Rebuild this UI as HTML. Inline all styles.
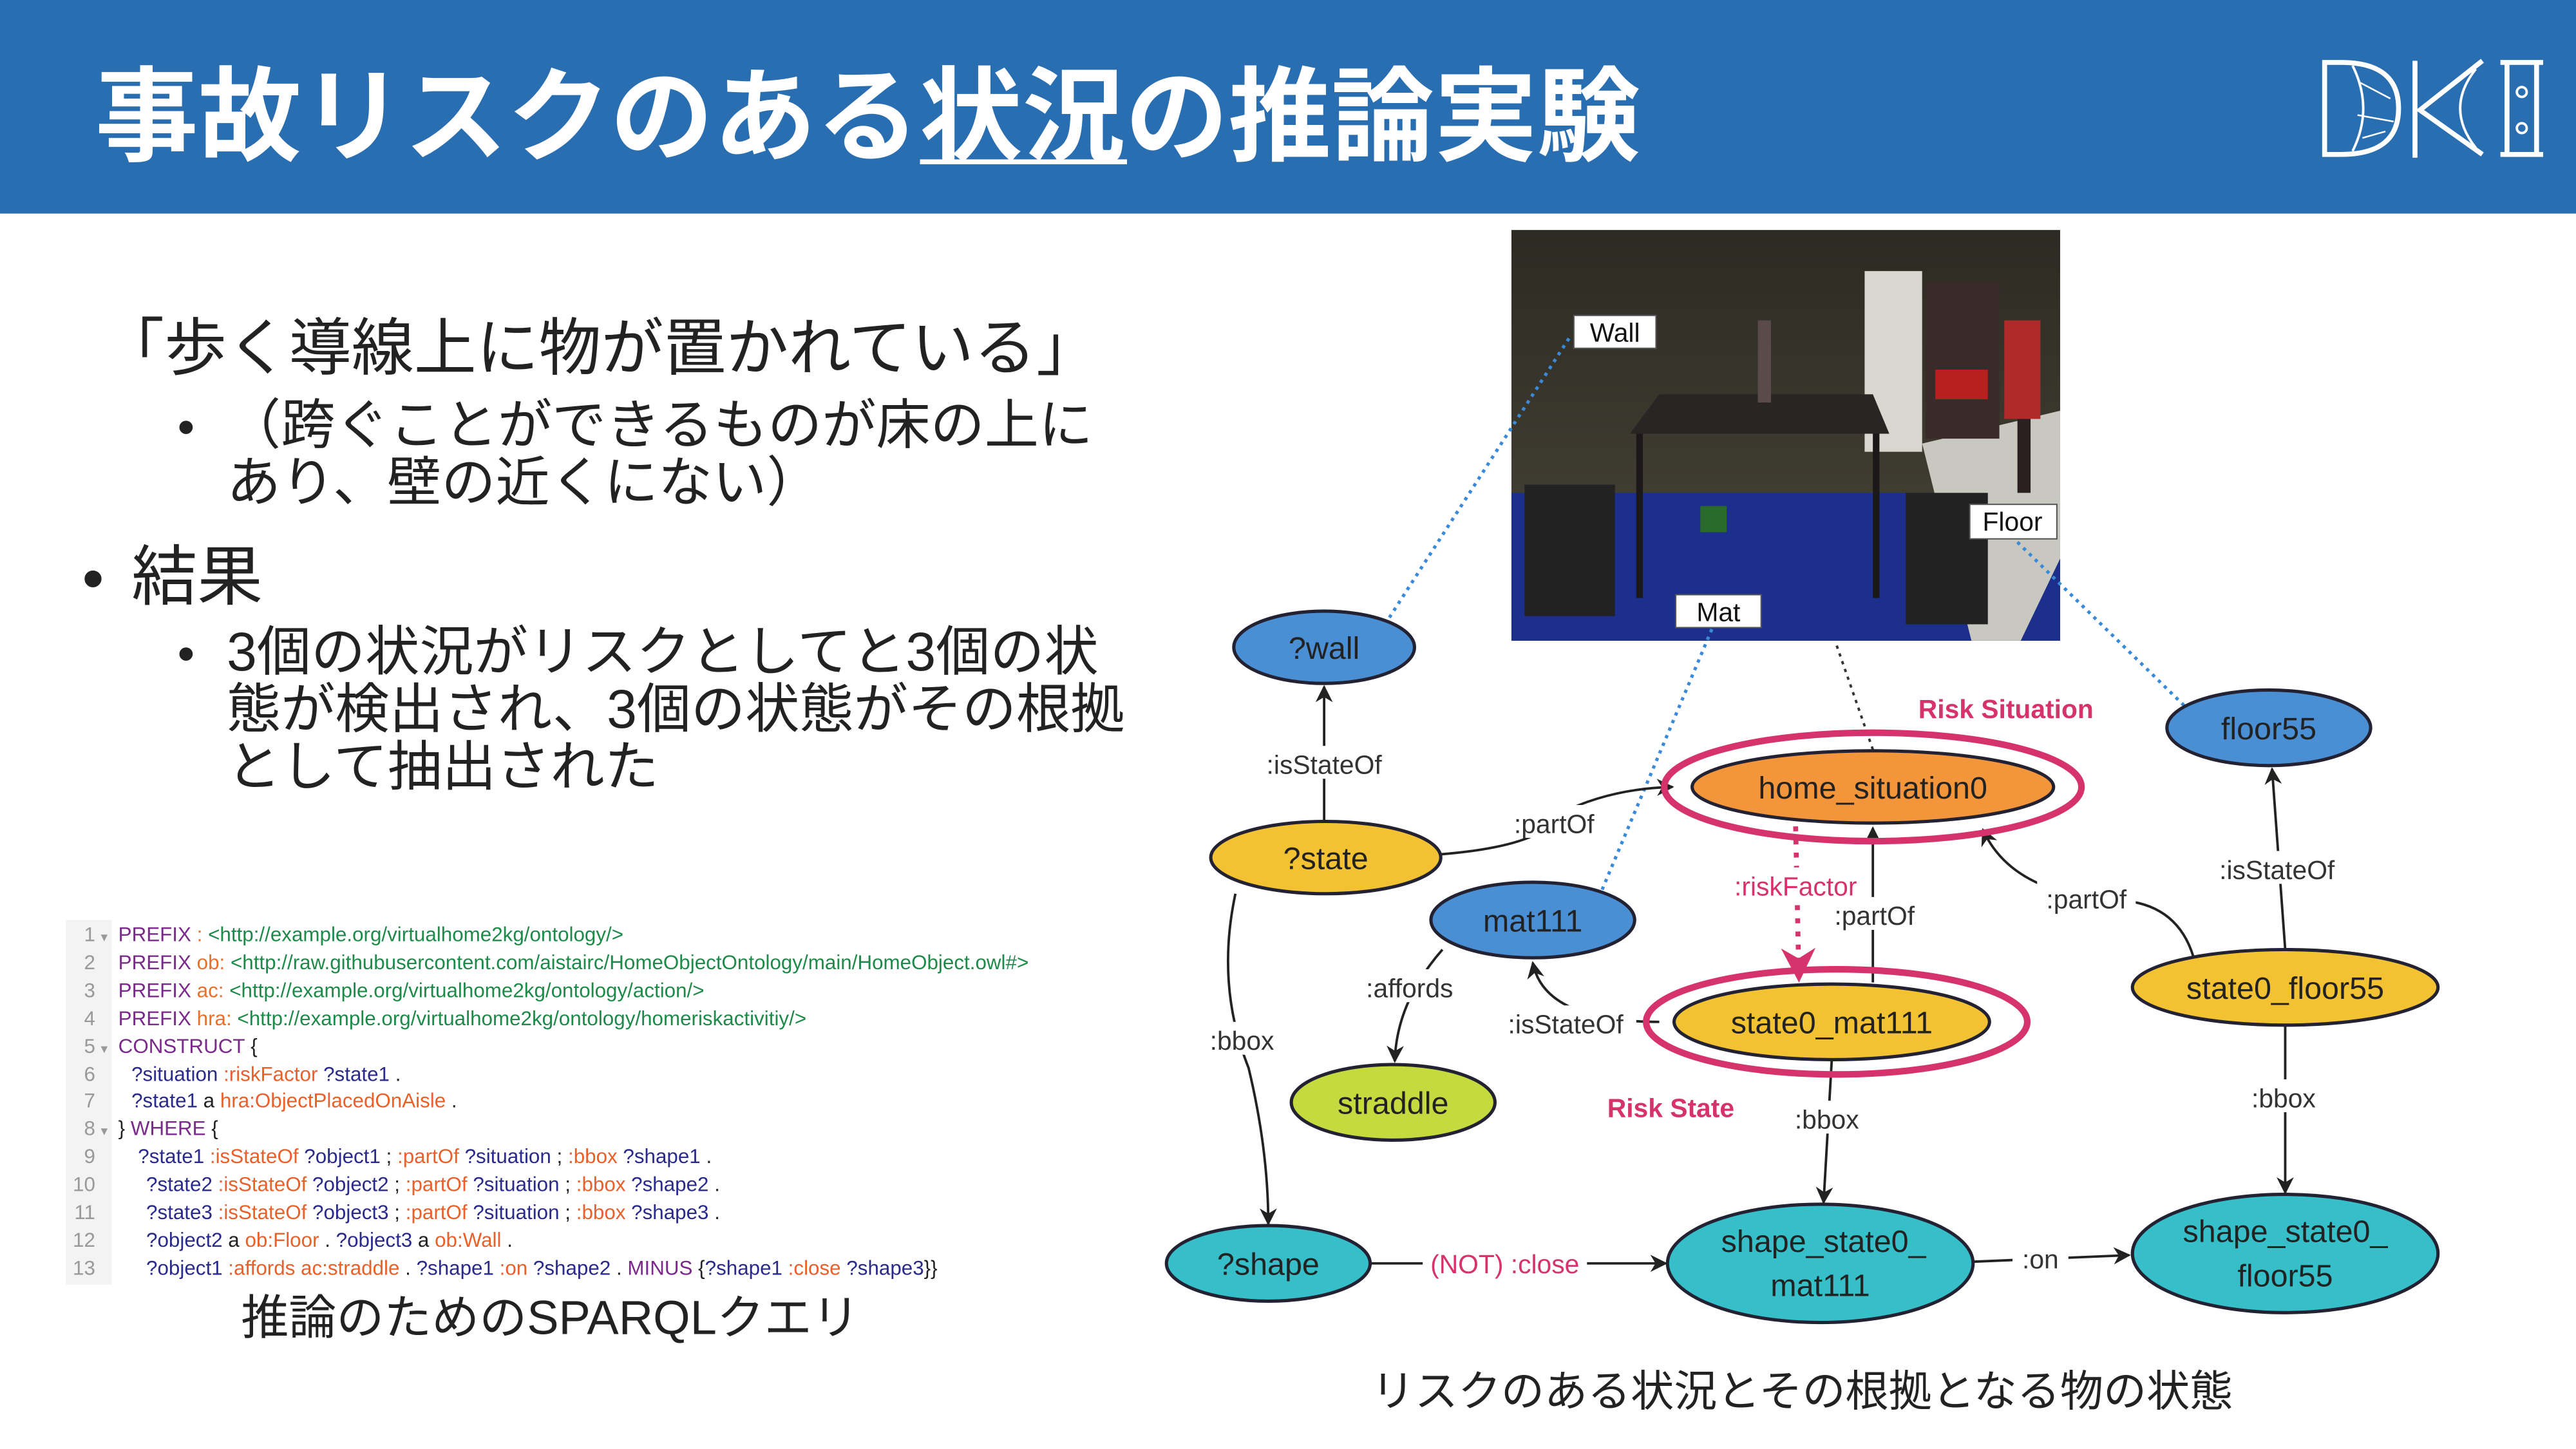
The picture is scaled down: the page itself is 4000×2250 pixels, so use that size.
<!DOCTYPE html>
<html><head><meta charset="utf-8"><style>
html,body{margin:0;padding:0;background:#fff;}
svg{display:block;}
text{font-family:"Liberation Sans","Noto Sans CJK JP",sans-serif;}
.jp{font-family:"Liberation Sans","Noto Sans CJK JP",sans-serif;}
.code{font-family:"Liberation Sans","Noto Sans CJK JP",sans-serif;font-size:12.3px;}
.lbl{font-size:16px;fill:#333;}
.nd{font-size:19px;fill:#222;}
</style></head><body>
<svg width="4000" height="2250" viewBox="0 0 1568 882" xmlns="http://www.w3.org/2000/svg">
<defs>
<marker id="ar" viewBox="0 0 10 10" refX="9" refY="5" markerWidth="7" markerHeight="7" orient="auto-start-reverse"><path d="M0,0 L10,5 L0,10 L3,5 z" fill="#222"/></marker>
<marker id="arp" viewBox="0 0 10 10" refX="9" refY="5" markerWidth="7" markerHeight="7" orient="auto"><path d="M0,0 L10,5 L0,10 L3,5 z" fill="#d6336c"/></marker>
<linearGradient id="wall" x1="0" y1="0" x2="0" y2="1"><stop offset="0" stop-color="#2c2a22"/><stop offset="1" stop-color="#4a463a"/></linearGradient>
</defs>
<rect width="1568" height="882" fill="#fff"/>
<rect width="1568" height="130" fill="#2a6eb2"/>
<text x="58" y="93" font-size="62.7" font-weight="bold" fill="#fff" class="jp">事故リスクのある状況の推論実験</text>
<rect x="560" y="97" width="126" height="3" fill="#fff"/>
<g fill="none" stroke="#fff" stroke-width="3">
<path d="M1415,38 L1415,94 L1425,94 Q1460,94 1460,66 Q1460,38 1425,38 Z"/>
<path d="M1432,40 Q1445,66 1432,92" stroke-width="1.5"/>
<path d="M1436,50 L1455,60 M1435,70 L1457,74 M1438,84 L1452,80" stroke-width="1"/>
<line x1="1470" y1="37" x2="1470" y2="96"/>
<path d="M1511,37 L1473,67 L1511,94"/>
<path d="M1507,42 Q1488,66 1507,90" stroke-width="1.5"/>
<path d="M1522,38 L1548,38 M1522,94 L1548,94 M1526,38 L1526,94 M1544,38 L1544,94"/>
<circle cx="1535" cy="56" r="3" stroke-width="1.5"/><circle cx="1535" cy="78" r="3" stroke-width="1.5"/>
</g>
<g fill="#222" class="jp">
<text x="62" y="225" font-size="38">「歩く導線上に物が置かれている」</text>
<text x="108" y="270" font-size="30">•</text>
<text x="138" y="270" font-size="33">（跨ぐことができるものが床の上に</text>
<text x="138" y="305" font-size="33">あり、壁の近くにない）</text>
<text x="50" y="365" font-size="38">•</text>
<text x="80" y="365" font-size="40">結果</text>
<text x="108" y="408" font-size="30">•</text>
<text x="138" y="408" font-size="33">3個の状況がリスクとしてと3個の状</text>
<text x="138" y="443" font-size="33">態が検出され、3個の状態がその根拠</text>
<text x="138" y="478" font-size="33">として抽出された</text>
</g>
<rect x="40" y="560" width="28" height="222" fill="#f3f3f3"/>
<g class="code" fill="#999" text-anchor="end">
<text x="58" y="573">1</text><text x="58" y="590">2</text><text x="58" y="607">3</text><text x="58" y="624">4</text><text x="58" y="641">5</text><text x="58" y="658">6</text><text x="58" y="674">7</text><text x="58" y="691">8</text><text x="58" y="708">9</text><text x="58" y="725">10</text><text x="58" y="742">11</text><text x="58" y="759">12</text><text x="58" y="776">13</text>
</g>
<g class="code" fill="#999"><text x="60" y="573" font-size="7">▼</text><text x="60" y="641" font-size="7">▼</text><text x="60" y="691" font-size="7">▼</text></g>
<g class="code" fill="#222">
<text x="72" y="573"><tspan fill="#7a2a8a">PREFIX</tspan><tspan fill="#e8702a"> :</tspan><tspan fill="#1e8a4a"> &lt;http://example.org/virtualhome2kg/ontology/&gt;</tspan></text>
<text x="72" y="590"><tspan fill="#7a2a8a">PREFIX</tspan><tspan fill="#e8702a"> ob:</tspan><tspan fill="#1e8a4a"> &lt;http://raw.githubusercontent.com/aistairc/HomeObjectOntology/main/HomeObject.owl#&gt;</tspan></text>
<text x="72" y="607"><tspan fill="#7a2a8a">PREFIX</tspan><tspan fill="#e8702a"> ac:</tspan><tspan fill="#1e8a4a"> &lt;http://example.org/virtualhome2kg/ontology/action/&gt;</tspan></text>
<text x="72" y="624"><tspan fill="#7a2a8a">PREFIX</tspan><tspan fill="#e8702a"> hra:</tspan><tspan fill="#1e8a4a"> &lt;http://example.org/virtualhome2kg/ontology/homeriskactivitiy/&gt;</tspan></text>
<text x="72" y="641"><tspan fill="#7a2a8a">CONSTRUCT</tspan> {</text>
<text x="80" y="658"><tspan fill="#2a2a8a">?situation</tspan><tspan fill="#e8602a"> :riskFactor</tspan><tspan fill="#2a2a8a"> ?state1</tspan> .</text>
<text x="80" y="674"><tspan fill="#2a2a8a">?state1</tspan> a <tspan fill="#e8602a">hra:ObjectPlacedOnAisle</tspan> .</text>
<text x="72" y="691">} <tspan fill="#7a2a8a">WHERE</tspan> {</text>
<text x="84" y="708"><tspan fill="#2a2a8a">?state1</tspan><tspan fill="#e8602a"> :isStateOf</tspan><tspan fill="#2a2a8a"> ?object1</tspan> ;<tspan fill="#e8602a"> :partOf</tspan><tspan fill="#2a2a8a"> ?situation</tspan> ;<tspan fill="#e8602a"> :bbox</tspan><tspan fill="#2a2a8a"> ?shape1</tspan> .</text>
<text x="89" y="725"><tspan fill="#2a2a8a">?state2</tspan><tspan fill="#e8602a"> :isStateOf</tspan><tspan fill="#2a2a8a"> ?object2</tspan> ;<tspan fill="#e8602a"> :partOf</tspan><tspan fill="#2a2a8a"> ?situation</tspan> ;<tspan fill="#e8602a"> :bbox</tspan><tspan fill="#2a2a8a"> ?shape2</tspan> .</text>
<text x="89" y="742"><tspan fill="#2a2a8a">?state3</tspan><tspan fill="#e8602a"> :isStateOf</tspan><tspan fill="#2a2a8a"> ?object3</tspan> ;<tspan fill="#e8602a"> :partOf</tspan><tspan fill="#2a2a8a"> ?situation</tspan> ;<tspan fill="#e8602a"> :bbox</tspan><tspan fill="#2a2a8a"> ?shape3</tspan> .</text>
<text x="89" y="759"><tspan fill="#2a2a8a">?object2</tspan> a <tspan fill="#e8602a">ob:Floor</tspan> . <tspan fill="#2a2a8a">?object3</tspan> a <tspan fill="#e8602a">ob:Wall</tspan> .</text>
<text x="89" y="776"><tspan fill="#2a2a8a">?object1</tspan><tspan fill="#e8602a"> :affords ac:straddle</tspan> . <tspan fill="#2a2a8a">?shape1</tspan><tspan fill="#e8602a"> :on</tspan><tspan fill="#2a2a8a"> ?shape2</tspan> . <tspan fill="#7a2a8a">MINUS</tspan> {<tspan fill="#2a2a8a">?shape1</tspan><tspan fill="#e8602a"> :close</tspan><tspan fill="#2a2a8a"> ?shape3</tspan>}}</text>
</g>
<text x="335" y="812" font-size="29" text-anchor="middle" fill="#222" class="jp">推論のためのSPARQLクエリ</text>
<g>
<rect x="920" y="140" width="334" height="250" fill="url(#wall)"/>
<polygon points="920,300 1254,300 1254,390 920,390" fill="#1c2f8c"/>
<polygon points="1170,270 1254,250 1254,340 1230,390 1200,390" fill="#c8c8c0"/>
<rect x="1135" y="165" width="35" height="110" fill="#d8d8d0"/>
<rect x="1172" y="172" width="45" height="95" fill="#3a2a2a"/>
<rect x="1178" y="225" width="32" height="18" fill="#b82020"/>
<polygon points="992,264 1150,264 1140,240 1010,240" fill="#2a2525"/>
<rect x="996" y="264" width="4" height="100" fill="#1a1818"/><rect x="1140" y="264" width="4" height="100" fill="#1a1818"/>
<rect x="928" y="295" width="55" height="80" fill="#222"/>
<rect x="1160" y="300" width="50" height="80" fill="#222"/>
<rect x="1070" y="195" width="8" height="50" fill="#5a4a4a"/>
<rect x="1220" y="195" width="22" height="60" fill="#b02a2a"/>
<rect x="1228" y="255" width="8" height="45" fill="#2a2020"/>
<rect x="1035" y="308" width="16" height="16" fill="#2a6a2a"/>
</g>
<g font-size="16" fill="#111">
<rect x="958" y="192" width="50" height="20" fill="#fff" stroke="#555" stroke-width="0.8"/><text x="983" y="208" text-anchor="middle">Wall</text>
<rect x="1199" y="307" width="53" height="21" fill="#fff" stroke="#555" stroke-width="0.8"/><text x="1225" y="323" text-anchor="middle">Floor</text>
<rect x="1020" y="362" width="52" height="20" fill="#fff" stroke="#555" stroke-width="0.8"/><text x="1046" y="378" text-anchor="middle">Mat</text>
</g>
<g fill="none" stroke="#3a8ad8" stroke-width="2" stroke-dasharray="2,3">
<line x1="955" y1="206" x2="845" y2="377"/>
<line x1="1042" y1="383" x2="975" y2="542"/>
<line x1="1228" y1="330" x2="1330" y2="430"/>
</g>
<line x1="1118" y1="393" x2="1142" y2="462" stroke="#333" stroke-width="1.5" stroke-dasharray="2,3"/>
<g fill="none" stroke="#222" stroke-width="1.5">
<line x1="806" y1="500" x2="806" y2="418" marker-end="url(#ar)"/>
<path d="M877,520 Q940,515 950,495 Q980,480 1018,479" marker-end="url(#ar)"/>
<path d="M878,578 Q850,610 849,646" marker-end="url(#ar)"/>
<path d="M1010,622 Q940,622 933,586" marker-end="url(#ar)"/>
<line x1="1140" y1="598" x2="1140" y2="504" marker-end="url(#ar)"/>
<path d="M1335,582 Q1325,550 1290,548 Q1225,545 1207,505" marker-end="url(#ar)"/>
<line x1="1391" y1="578" x2="1383" y2="468" marker-end="url(#ar)"/>
<path d="M752,544 Q740,600 760,650 Q772,700 772,745" marker-end="url(#ar)"/>
<line x1="1115" y1="645" x2="1110" y2="732" marker-end="url(#ar)"/>
<line x1="1391" y1="624" x2="1391" y2="726" marker-end="url(#ar)"/>
<line x1="834" y1="769" x2="1014" y2="769" marker-end="url(#ar)"/>
<line x1="1201" y1="768" x2="1296" y2="764" marker-end="url(#ar)"/>
</g>
<line x1="1093" y1="503" x2="1095" y2="596" stroke="#d6336c" stroke-width="3" stroke-dasharray="3,5" marker-end="url(#arp)"/>
<ellipse cx="1140" cy="479" rx="127" ry="33" fill="none" stroke="#d6336c" stroke-width="4"/>
<ellipse cx="1118" cy="622" rx="116" ry="32" fill="none" stroke="#d6336c" stroke-width="4"/>
<g stroke="#223" stroke-width="2">
<ellipse cx="806" cy="394" rx="55" ry="22" fill="#4a8fd4"/>
<ellipse cx="807" cy="522" rx="70" ry="22" fill="#f3c232"/>
<ellipse cx="933" cy="560" rx="62" ry="23" fill="#4a8fd4"/>
<ellipse cx="848" cy="671" rx="62" ry="23" fill="#c5da3e"/>
<ellipse cx="772" cy="769" rx="62" ry="23" fill="#36bfc9"/>
<ellipse cx="1140" cy="479" rx="110" ry="22" fill="#f3953a"/>
<ellipse cx="1115" cy="622" rx="96" ry="23" fill="#f3c232"/>
<ellipse cx="1381" cy="443" rx="62" ry="23" fill="#4a8fd4"/>
<ellipse cx="1391" cy="601" rx="93" ry="23" fill="#f3c232"/>
<ellipse cx="1108" cy="769" rx="93" ry="36" fill="#36bfc9"/>
<ellipse cx="1391" cy="763" rx="93" ry="36" fill="#36bfc9"/>
</g>
<g class="nd" text-anchor="middle">
<text x="806" y="401">?wall</text>
<text x="807" y="529">?state</text>
<text x="933" y="567">mat111</text>
<text x="848" y="678">straddle</text>
<text x="772" y="776">?shape</text>
<text x="1140" y="486">home_situation0</text>
<text x="1115" y="629">state0_mat111</text>
<text x="1381" y="450">floor55</text>
<text x="1391" y="608">state0_floor55</text>
<text x="1110" y="762">shape_state0_</text><text x="1108" y="789">mat111</text>
<text x="1391" y="756">shape_state0_</text><text x="1391" y="783">floor55</text>
</g>
<g class="lbl" text-anchor="middle">
<rect x="765" y="454" width="82" height="20" fill="#fff"/><text x="806" y="471">:isStateOf</text>
<rect x="916" y="490" width="60" height="20" fill="#fff"/><text x="946" y="507">:partOf</text>
<rect x="730" y="622" width="52" height="20" fill="#fff"/><text x="756" y="639">:bbox</text>
<rect x="826" y="590" width="64" height="20" fill="#fff"/><text x="858" y="607">:affords</text>
<rect x="912" y="612" width="84" height="20" fill="#fff"/><text x="953" y="629">:isStateOf</text>
<rect x="1112" y="546" width="58" height="20" fill="#fff"/><text x="1141" y="563">:partOf</text>
<rect x="1240" y="536" width="60" height="20" fill="#fff"/><text x="1270" y="553">:partOf</text>
<rect x="1345" y="518" width="84" height="20" fill="#fff"/><text x="1386" y="535">:isStateOf</text>
<rect x="1086" y="670" width="52" height="20" fill="#fff"/><text x="1112" y="687">:bbox</text>
<rect x="1364" y="657" width="52" height="20" fill="#fff"/><text x="1390" y="674">:bbox</text>
<rect x="1225" y="755" width="34" height="20" fill="#fff"/><text x="1242" y="772">:on</text>
<rect x="1048" y="528" width="90" height="20" fill="#fff"/><text x="1093" y="545" fill="#d6336c">:riskFactor</text>
<rect x="866" y="758" width="100" height="20" fill="#fff"/><text x="916" y="775" fill="#d6336c">(NOT) :close</text>
<text x="1221" y="437" font-weight="bold" fill="#d6336c">Risk Situation</text>
<text x="1017" y="680" font-weight="bold" fill="#d6336c">Risk State</text>
</g>
<text x="1097" y="856" font-size="26.3" text-anchor="middle" fill="#222" class="jp">リスクのある状況とその根拠となる物の状態</text>
</svg>
</body></html>
